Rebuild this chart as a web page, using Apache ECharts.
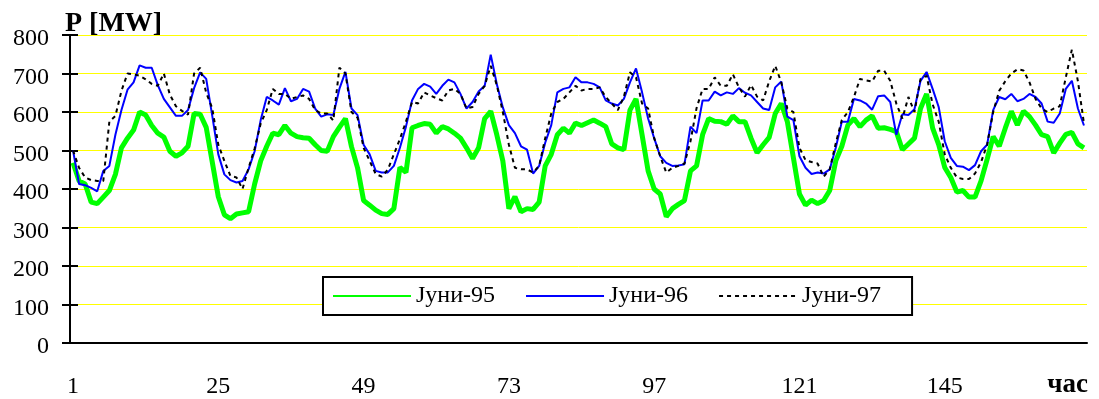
<!DOCTYPE html>
<html><head><meta charset="utf-8">
<script src="https://cdn.jsdelivr.net/npm/echarts@6/dist/echarts.min.js"></script>
<style>html,body{margin:0;padding:0;background:#fff}#c{width:1099px;height:399px}</style>
</head><body><div id="c"></div>
<script>
// hour labels shown on the x axis
var tickLabels = ['1','25','49','73','97','121','145'];
var hourCount = 168;
var yTicks = [0,100,200,300,400,500,600,700,800];

// Јуни-95 (green)
var jun95 = [
468,421,413,366,362,379,396,438,507,532,553,600,592,565,545,535,498,485,494,511,596,594,560,470,
380,333,323,335,338,341,413,473,511,545,541,565,545,536,533,532,515,500,498,536,560,583,510,455,
370,358,345,336,334,349,456,443,559,565,570,568,545,562,556,545,532,507,479,507,583,602,541,473,
349,380,341,349,347,366,460,490,541,558,545,571,565,572,579,571,562,517,507,502,605,634,541,447,
400,387,328,349,360,370,447,460,541,583,576,575,568,590,575,575,532,494,515,534,596,622,575,481,
387,358,371,362,370,396,473,511,566,583,562,579,590,558,559,555,549,502,517,532,609,647,558,515,
456,430,392,396,379,379,421,477,536,511,558,602,566,602,588,566,541,536,494,519,542,547,517,507
];
// Јуни-96 (blue)
var jun96 = [
500,413,410,403,394,447,460,541,605,658,677,721,715,715,670,634,612,590,590,605,662,703,686,590,
490,438,423,417,421,451,498,579,639,630,619,662,628,634,660,653,609,588,594,592,660,704,609,592,
515,490,447,443,443,460,507,562,630,660,673,666,647,668,684,677,647,609,626,653,668,749,673,612,
566,545,511,502,440,460,520,566,651,660,664,690,677,677,673,664,630,622,617,634,677,713,651,583,
532,485,468,460,461,464,562,545,630,630,653,643,651,647,662,650,643,626,609,605,664,679,588,579,
485,455,439,443,440,451,507,575,575,634,630,622,606,641,643,626,541,594,592,607,681,704,660,613,
524,481,460,458,449,462,498,515,605,639,633,647,628,634,647,639,622,575,572,596,660,681,609,565
];
// Јуни-97 (black dashed)
var jun97 = [
500,455,430,423,421,421,575,590,655,700,698,694,685,673,668,700,645,615,603,593,700,715,650,610,
515,473,434,430,400,455,505,570,605,660,647,647,634,639,643,634,605,596,596,578,715,700,600,585,
507,473,439,432,450,490,530,575,626,622,651,643,636,630,656,660,647,609,613,647,668,720,670,600,
515,455,451,451,443,460,532,596,626,634,651,668,656,660,660,664,639,622,605,640,703,690,622,609,
532,485,443,455,460,466,524,610,660,660,690,668,668,698,664,640,670,640,630,680,720,677,609,600,
507,475,470,466,432,451,519,579,600,639,686,682,679,707,707,681,622,583,639,600,686,694,620,575,
490,455,430,426,426,440,470,515,600,655,680,700,711,708,677,634,609,600,609,615,690,762,680,570
];

var hours = [];
for (var i = 1; i <= hourCount; i++) hours.push(String(i));

var FONT = "'Times New Roman','Liberation Serif',serif";
var chart = echarts.init(document.getElementById('c'), null, {renderer:'canvas'});
var yBase = {type:'value', min:yTicks[0], max:yTicks[yTicks.length-1], interval:100};
chart.setOption({
  animation:false,
  backgroundColor:'#fff',
  title:[
    {text:'P [MW]', left:60, top:5, textStyle:{fontFamily:FONT, fontWeight:'bold', fontSize:28, color:'#000'}},
    {text:'час', right:6, top:367, textStyle:{fontFamily:FONT, fontWeight:'bold', fontSize:27, color:'#000'}}
  ],
  grid:{left:70, right:12, top:35, bottom:52, containLabel:false},
  legend:{
    left:323, top:277, orient:'horizontal',
    padding:[7,31,7,9], itemGap:30, itemWidth:78, itemHeight:14,
    backgroundColor:'#fff', borderColor:'#000', borderWidth:2, borderRadius:0,
    itemStyle:{opacity:0},
    textStyle:{fontFamily:FONT, fontSize:24, color:'#000'},
    data:['Јуни-95','Јуни-96','Јуни-97']
  },
  xAxis:[
    {type:'category', data:hours, boundaryGap:true,
     axisLine:{lineStyle:{color:'#000', width:2}},
     axisTick:{interval:11, length:8, lineStyle:{color:'#000', width:2}},
     axisLabel:{interval:function(idx, val){return tickLabels.indexOf(val) >= 0;}, margin:32,
       fontFamily:FONT, fontSize:24, color:'#000'},
     splitLine:{show:false}},
    {type:'category', data:hours, boundaryGap:true, position:'bottom',
     axisLine:{show:false},
     axisTick:{inside:true, interval:11, length:8, lineStyle:{color:'#000', width:2}},
     axisLabel:{show:false}, splitLine:{show:false}}
  ],
  yAxis:[
    Object.assign({}, yBase, {
     axisLine:{show:true, lineStyle:{color:'#000', width:2}},
     axisTick:{show:true, length:8, lineStyle:{color:'#000', width:2}},
     axisLabel:{margin:21, fontFamily:FONT, fontSize:24, color:'#000', verticalAlign:'top', lineHeight:8},
     splitLine:{show:true, lineStyle:{color:'#ffff00', width:1}}}),
    Object.assign({}, yBase, {position:'left',
     axisLine:{show:false},
     axisTick:{show:true, inside:true, length:8, lineStyle:{color:'#000', width:2}},
     axisLabel:{show:false}, splitLine:{show:false}})
  ],
  series:[
    {name:'Јуни-95', type:'line', data:jun95, symbol:'none', smooth:false,
     lineStyle:{color:'#00ff00', width:5}, itemStyle:{color:'#00ff00'}, z:2},
    {name:'Јуни-96', type:'line', data:jun96, symbol:'none', smooth:false,
     lineStyle:{color:'#0000ff', width:2}, itemStyle:{color:'#0000ff'}, z:3},
    {name:'Јуни-97', type:'line', data:jun97, symbol:'none', smooth:false,
     lineStyle:{color:'#000', width:2, type:[4,4]}, itemStyle:{color:'#000'}, z:4}
  ]
});
</script></body></html>
